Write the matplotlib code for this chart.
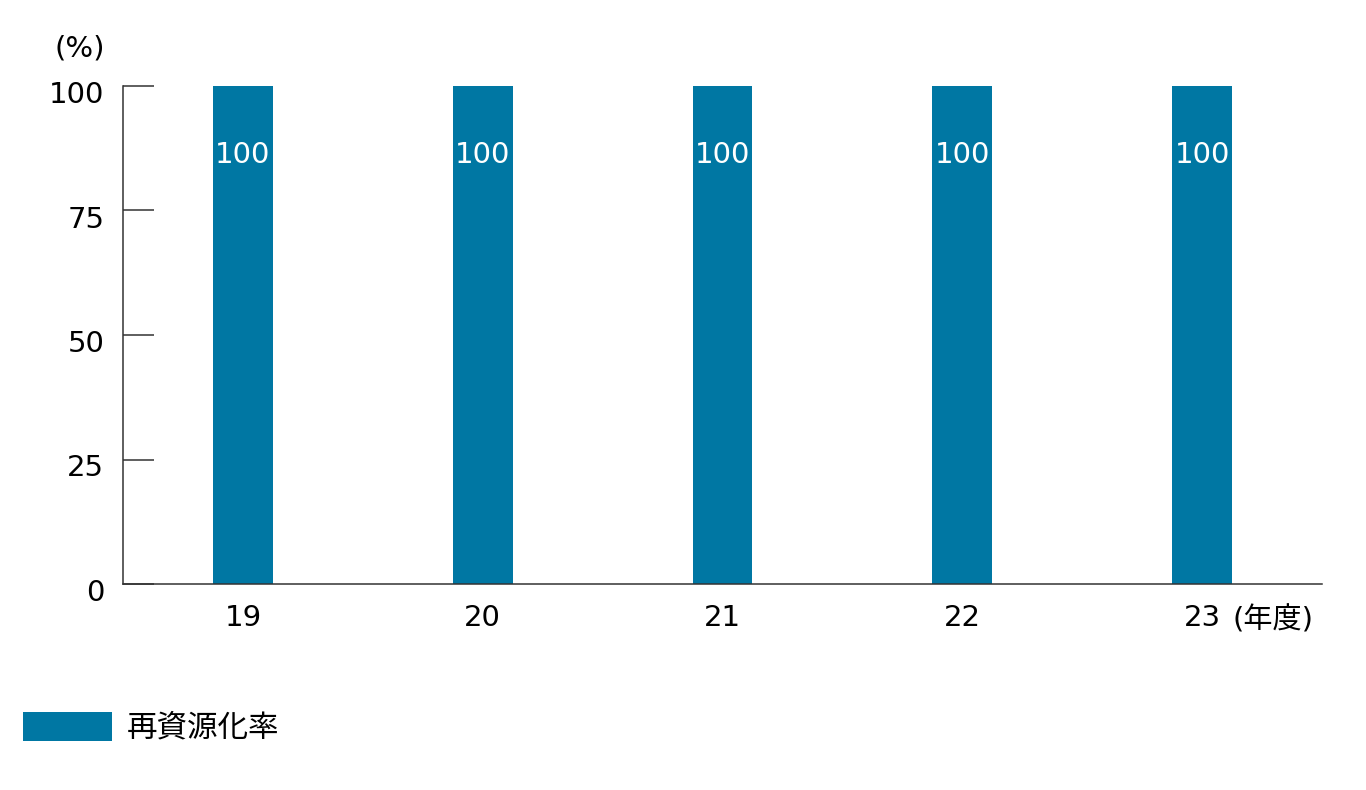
import matplotlib
matplotlib.use("Agg")
import matplotlib.pyplot as plt
import matplotlib.transforms as mtransforms
from matplotlib.patches import Patch

plt.rcParams['font.family'] = ['DejaVu Sans', 'Noto Sans CJK JP']

categories = ["19", "20", "21", "22", "23"]
values = [100, 100, 100, 100, 100]
y_ticks = [0, 25, 50, 75, 100]
series_name = "再資源化率"
unit_y = "(%)"
unit_x = "(年度)"
bar_color = "#0077A3"
axis_color = "#333333"

fig = plt.figure(figsize=(13.66, 7.90), dpi=100)
ax = fig.add_axes([123/1366, 1-584/790, (1322-123)/1366, (584-86)/790])

x = list(range(len(categories)))
bars = ax.bar(x, values, width=0.25, color=bar_color)
for rect, v in zip(bars, values):
    ax.text(rect.get_x() + rect.get_width()/2, v - 13.8, f"{v}", ha='center', va='center',
            color='white', fontsize=21)

ax.set_xlim(-0.5, 4.5)
ax.set_ylim(0, 100)
ax.set_yticks(y_ticks)
ax.set_yticklabels([str(t) for t in y_ticks], fontsize=21)
ax.set_xticks(x)
ax.set_xticklabels(categories, fontsize=21)

for s in ['top', 'right']:
    ax.spines[s].set_visible(False)
for s in ['left', 'bottom']:
    ax.spines[s].set_color(axis_color)
    ax.spines[s].set_linewidth(1.1)

ax.tick_params(axis='y', direction='in', length=22, width=1.1, color=axis_color, pad=13.5)
ax.tick_params(axis='x', length=0, pad=14.5)

off = mtransforms.ScaledTranslation(0, -6/100, fig.dpi_scale_trans)
for lbl in ax.get_yticklabels():
    lbl.set_transform(lbl.get_transform() + off)

# unit labels
fig.text(105/1366, 1-48/790, unit_y, ha='right', va='center', fontsize=21)
ax.annotate(unit_x, xy=(x[-1], 0), xycoords='data', xytext=(22, -26.5), textcoords='offset points',
            ha='left', va='center', fontsize=21)

# legend
leg = fig.legend(handles=[Patch(facecolor=bar_color, label=series_name)],
                 loc='center left', bbox_to_anchor=(23/1366, 1-727/790), frameon=False,
                 borderpad=0, borderaxespad=0,
                 handlelength=2.9, handleheight=1.08, handletextpad=0.5, fontsize=22)

fig.savefig("out.png", dpi=100, facecolor='white')
